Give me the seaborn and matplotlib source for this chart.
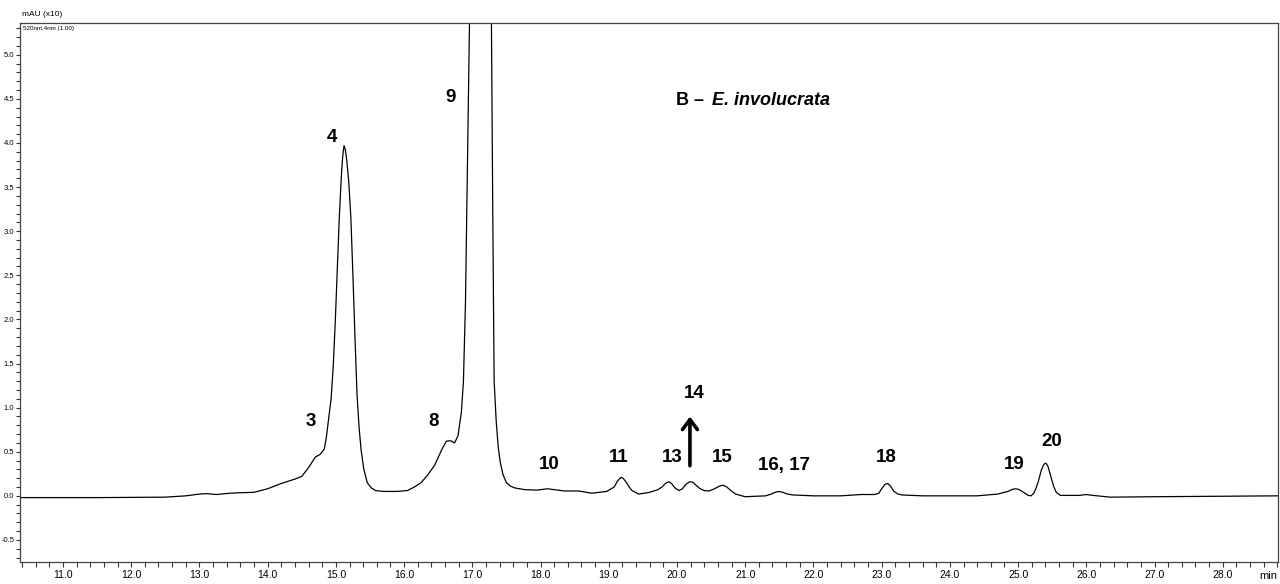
import matplotlib
matplotlib.use("Agg")
import matplotlib.pyplot as plt
from matplotlib.ticker import MultipleLocator, FormatStrFormatter
import seaborn as sns
import pandas as pd

# Retention time (min) and absorbance (mAU x10)
time_min = [
    10.37, 11.50, 12.50, 12.80, 13.00, 13.10, 13.25, 13.45, 13.60, 13.80,
    14.00, 14.20, 14.40, 14.50, 14.60, 14.70, 14.77, 14.83, 14.86, 14.89,
    14.93, 14.96, 14.99, 15.02, 15.05, 15.08, 15.10, 15.12, 15.14, 15.16,
    15.19, 15.22, 15.25, 15.28, 15.31, 15.34, 15.37, 15.41, 15.46, 15.52,
    15.58, 15.70, 15.90, 16.05, 16.15, 16.25, 16.35, 16.45, 16.55, 16.62,
    16.68, 16.74, 16.79, 16.84, 16.87, 16.90, 16.93, 16.96, 17.02, 17.12,
    17.22, 17.28, 17.30, 17.32, 17.35, 17.38, 17.41, 17.45, 17.50, 17.56,
    17.62, 17.77, 17.95, 18.10, 18.20, 18.35, 18.56, 18.75, 18.97, 19.08,
    19.13, 19.18, 19.21, 19.26, 19.30, 19.34, 19.44, 19.60, 19.72, 19.78,
    19.83, 19.88, 19.92, 19.97, 20.03, 20.08, 20.13, 20.19, 20.23, 20.28,
    20.34, 20.40, 20.47, 20.55, 20.62, 20.68, 20.73, 20.79, 20.86, 21.00,
    21.30, 21.38, 21.44, 21.49, 21.55, 21.62, 21.70, 22.00, 22.40, 22.70,
    22.90, 22.96, 23.00, 23.05, 23.09, 23.13, 23.18, 23.24, 23.30, 23.60,
    24.40, 24.70, 24.85, 24.92, 24.97, 25.02, 25.08, 25.15, 25.19, 25.23,
    25.26, 25.30, 25.34, 25.38, 25.41, 25.44, 25.48, 25.52, 25.56, 25.62,
    25.90, 26.00, 26.10, 26.35, 27.00, 28.00, 28.81,
]
absorbance = [
    -0.020, -0.020, -0.015, 0.000, 0.020, 0.025, 0.015, 0.030, 0.035, 0.040,
    0.080, 0.140, 0.190, 0.220, 0.320, 0.440, 0.470, 0.530, 0.660, 0.850,
    1.100, 1.450, 1.950, 2.550, 3.150, 3.620, 3.850, 3.970, 3.920, 3.800,
    3.550, 3.150, 2.500, 1.800, 1.150, 0.780, 0.520, 0.300, 0.150, 0.090,
    0.060, 0.050, 0.050, 0.060, 0.100, 0.150, 0.240, 0.350, 0.520, 0.620,
    0.625, 0.600, 0.680, 0.950, 1.300, 2.200, 3.800, 5.400, 9.000, 12.000,
    9.000, 5.400, 3.200, 1.300, 0.850, 0.550, 0.380, 0.240, 0.150, 0.110,
    0.090, 0.070, 0.065, 0.080, 0.070, 0.055, 0.055, 0.030, 0.050, 0.100,
    0.170, 0.210, 0.200, 0.150, 0.100, 0.060, 0.020, 0.040, 0.070, 0.100,
    0.140, 0.160, 0.140, 0.090, 0.060, 0.080, 0.130, 0.160, 0.155, 0.120,
    0.080, 0.060, 0.055, 0.080, 0.110, 0.120, 0.100, 0.060, 0.020, -0.010,
    0.000, 0.020, 0.040, 0.050, 0.040, 0.020, 0.010, 0.000, 0.000, 0.015,
    0.015, 0.030, 0.080, 0.130, 0.140, 0.110, 0.050, 0.020, 0.010, 0.000,
    0.000, 0.020, 0.050, 0.075, 0.080, 0.070, 0.040, 0.005, 0.000, 0.030,
    0.080, 0.170, 0.290, 0.360, 0.370, 0.330, 0.220, 0.110, 0.040, 0.005,
    0.005, 0.015, 0.005, -0.015, -0.010, -0.005, 0.000,
]

# Peak labels and their positions (time, absorbance)
peak_labels = ["3", "4", "8", "9", "10", "11", "13", "14", "15", "16, 17", "18", "19", "20"]
peak_label_t = [14.63, 14.94, 16.44, 16.68, 18.13, 19.15, 19.93, 20.25, 20.66, 21.57, 23.07, 24.94, 25.49]
peak_label_v = [0.84, 4.06, 0.84, 4.51, 0.36, 0.44, 0.44, 1.16, 0.44, 0.34, 0.44, 0.36, 0.62]

sns.set_theme(style="ticks")
plt.rcParams["font.family"] = ["Liberation Sans", "DejaVu Sans"]
plt.rcParams["text.color"] = "black"

df = pd.DataFrame({"time": time_min, "abs": absorbance})

fig = plt.figure(figsize=(12.8, 5.84), dpi=100)
ax = fig.add_axes([20 / 1280, 1 - 562 / 584, 1258 / 1280, (562 - 23) / 584])

sns.lineplot(data=df, x="time", y="abs", ax=ax, color="black", linewidth=0.9,
             estimator=None, sort=False)

ax.set_xlim(10.37, 28.81)
ax.set_ylim(-0.75, 5.36)
ax.set_xlabel("")
ax.set_ylabel("")

ax.xaxis.set_major_locator(MultipleLocator(1.0))
ax.xaxis.set_minor_locator(MultipleLocator(0.2))
ax.yaxis.set_major_locator(MultipleLocator(0.5))
ax.yaxis.set_minor_locator(MultipleLocator(0.1))
ax.xaxis.set_major_formatter(FormatStrFormatter("%.1f"))
ax.yaxis.set_major_formatter(FormatStrFormatter("%.1f"))
ax.tick_params(axis="x", which="both", direction="out", length=3.5, width=0.8,
               labelsize=7.5, pad=2, colors="#333333", labelcolor="black")
ax.tick_params(axis="y", which="both", direction="out", length=3, width=0.8,
               labelsize=5.5, pad=1, colors="#333333", labelcolor="black")
for s in ax.spines.values():
    s.set_linewidth(0.9)
    s.set_color("#444444")

for lab, t, v in zip(peak_labels, peak_label_t, peak_label_v):
    ax.text(t, v, lab, ha="center", va="center", fontsize=13.5,
            fontweight="bold", color="black")

# Arrow marking peak 14
ax.annotate("", xy=(20.19, 0.93), xytext=(20.19, 0.31),
            arrowprops=dict(arrowstyle="->,head_length=0.6,head_width=0.45",
                            lw=2.6, color="black"))

ax.text(19.99, 4.48, "B \u2013 ", ha="left", va="center", fontsize=13,
        fontweight="bold", color="black")
ax.text(20.52, 4.48, "E. involucrata", ha="left", va="center", fontsize=13,
        fontweight="bold", style="italic", color="black")

fig.text(22 / 1280, 1 - 14 / 584, "mAU (x10)", fontsize=6, ha="left",
         va="center", color="black")
ax.text(0.002, 0.995, "520nm,4nm (1.00)", transform=ax.transAxes, fontsize=4.5,
        ha="left", va="top", color="black")
fig.text(1268 / 1280, 1 - 576 / 584, "min", fontsize=8, ha="center",
         va="center", color="black")

fig.savefig("out.png", dpi=100)
